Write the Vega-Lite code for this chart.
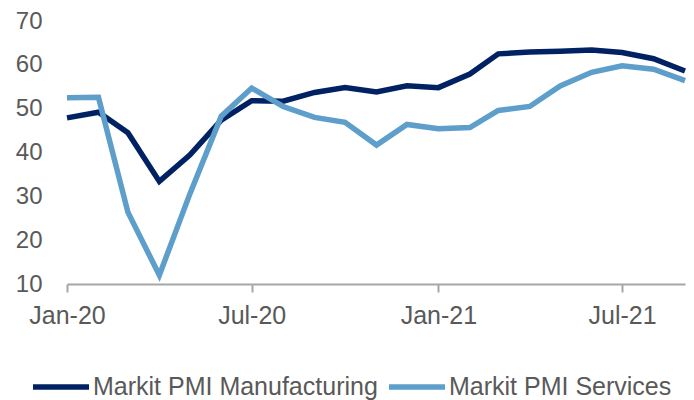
{
  "$schema": "https://vega.github.io/schema/vega-lite/v6.json",
  "width": 618,
  "height": 263,
  "autosize": {"type": "none"},
  "padding": {"left": 67, "top": 21, "right": 9, "bottom": 116},
  "background": "white",
  "config": {
    "view": {"stroke": null},
    "font": "Liberation Sans"
  },
  "datasets": {
    "pmi": [
      {"month": "2020-01-01T00:00:00", "series": "Markit PMI Manufacturing", "value": 47.9},
      {"month": "2020-02-01T00:00:00", "series": "Markit PMI Manufacturing", "value": 49.2},
      {"month": "2020-03-01T00:00:00", "series": "Markit PMI Manufacturing", "value": 44.5},
      {"month": "2020-04-01T00:00:00", "series": "Markit PMI Manufacturing", "value": 33.4},
      {"month": "2020-05-01T00:00:00", "series": "Markit PMI Manufacturing", "value": 39.4},
      {"month": "2020-06-01T00:00:00", "series": "Markit PMI Manufacturing", "value": 47.4},
      {"month": "2020-07-01T00:00:00", "series": "Markit PMI Manufacturing", "value": 51.8},
      {"month": "2020-08-01T00:00:00", "series": "Markit PMI Manufacturing", "value": 51.7},
      {"month": "2020-09-01T00:00:00", "series": "Markit PMI Manufacturing", "value": 53.7},
      {"month": "2020-10-01T00:00:00", "series": "Markit PMI Manufacturing", "value": 54.8},
      {"month": "2020-11-01T00:00:00", "series": "Markit PMI Manufacturing", "value": 53.8},
      {"month": "2020-12-01T00:00:00", "series": "Markit PMI Manufacturing", "value": 55.2},
      {"month": "2021-01-01T00:00:00", "series": "Markit PMI Manufacturing", "value": 54.8},
      {"month": "2021-02-01T00:00:00", "series": "Markit PMI Manufacturing", "value": 57.9},
      {"month": "2021-03-01T00:00:00", "series": "Markit PMI Manufacturing", "value": 62.5},
      {"month": "2021-04-01T00:00:00", "series": "Markit PMI Manufacturing", "value": 62.9},
      {"month": "2021-05-01T00:00:00", "series": "Markit PMI Manufacturing", "value": 63.1},
      {"month": "2021-06-01T00:00:00", "series": "Markit PMI Manufacturing", "value": 63.4},
      {"month": "2021-07-01T00:00:00", "series": "Markit PMI Manufacturing", "value": 62.8},
      {"month": "2021-08-01T00:00:00", "series": "Markit PMI Manufacturing", "value": 61.4},
      {"month": "2021-09-01T00:00:00", "series": "Markit PMI Manufacturing", "value": 58.6},
      {"month": "2020-01-01T00:00:00", "series": "Markit PMI Services", "value": 52.5},
      {"month": "2020-02-01T00:00:00", "series": "Markit PMI Services", "value": 52.6},
      {"month": "2020-03-01T00:00:00", "series": "Markit PMI Services", "value": 26.4},
      {"month": "2020-04-01T00:00:00", "series": "Markit PMI Services", "value": 12.0},
      {"month": "2020-05-01T00:00:00", "series": "Markit PMI Services", "value": 30.5},
      {"month": "2020-06-01T00:00:00", "series": "Markit PMI Services", "value": 48.3},
      {"month": "2020-07-01T00:00:00", "series": "Markit PMI Services", "value": 54.7},
      {"month": "2020-08-01T00:00:00", "series": "Markit PMI Services", "value": 50.5},
      {"month": "2020-09-01T00:00:00", "series": "Markit PMI Services", "value": 48.0},
      {"month": "2020-10-01T00:00:00", "series": "Markit PMI Services", "value": 46.9},
      {"month": "2020-11-01T00:00:00", "series": "Markit PMI Services", "value": 41.7},
      {"month": "2020-12-01T00:00:00", "series": "Markit PMI Services", "value": 46.4},
      {"month": "2021-01-01T00:00:00", "series": "Markit PMI Services", "value": 45.4},
      {"month": "2021-02-01T00:00:00", "series": "Markit PMI Services", "value": 45.7},
      {"month": "2021-03-01T00:00:00", "series": "Markit PMI Services", "value": 49.6},
      {"month": "2021-04-01T00:00:00", "series": "Markit PMI Services", "value": 50.5},
      {"month": "2021-05-01T00:00:00", "series": "Markit PMI Services", "value": 55.2},
      {"month": "2021-06-01T00:00:00", "series": "Markit PMI Services", "value": 58.3},
      {"month": "2021-07-01T00:00:00", "series": "Markit PMI Services", "value": 59.8},
      {"month": "2021-08-01T00:00:00", "series": "Markit PMI Services", "value": 59.0},
      {"month": "2021-09-01T00:00:00", "series": "Markit PMI Services", "value": 56.4}
    ]
  },
  "data": {"name": "pmi"},
  "mark": {"type": "line", "strokeWidth": 5.5, "strokeJoin": "miter", "strokeCap": "butt"},
  "encoding": {
    "x": {
      "field": "month",
      "type": "temporal",
      "title": null,
      "scale": {"domain": [{"year": 2020, "month": 1, "date": 1}, {"year": 2021, "month": 9, "date": 1}]},
      "axis": {
        "values": [
          {"year": 2020, "month": 1, "date": 1},
          {"year": 2020, "month": 7, "date": 1},
          {"year": 2021, "month": 1, "date": 1},
          {"year": 2021, "month": 7, "date": 1}
        ],
        "format": "%b-%y",
        "grid": false,
        "domainColor": "#a6a6a6",
        "domainWidth": 2,
        "tickColor": "#a6a6a6",
        "tickWidth": 2,
        "tickSize": 8,
        "labelFontSize": 25,
        "labelColor": "#595959",
        "labelPadding": 11,
        "labelFlush": false,
        "labelOverlap": false
      }
    },
    "y": {
      "field": "value",
      "type": "quantitative",
      "title": null,
      "scale": {"domain": [10, 70], "nice": false, "zero": false},
      "axis": {
        "values": [10, 20, 30, 40, 50, 60, 70],
        "grid": false,
        "domain": false,
        "ticks": false,
        "labelFontSize": 24,
        "labelColor": "#595959",
        "labelPadding": 25
      }
    },
    "color": {
      "field": "series",
      "type": "nominal",
      "scale": {
        "domain": ["Markit PMI Manufacturing", "Markit PMI Services"],
        "range": ["#002263", "#5e9ecb"]
      },
      "legend": {
        "title": null,
        "orient": "none",
        "direction": "horizontal",
        "legendX": -37,
        "legendY": 335,
        "symbolType": "stroke",
        "symbolSize": 3136,
        "symbolStrokeWidth": 5.5,
        "labelFontSize": 25,
        "labelLimit": 500,
        "labelColor": "#595959",
        "labelOffset": 1,
        "columnPadding": 0
      }
    }
  }
}
